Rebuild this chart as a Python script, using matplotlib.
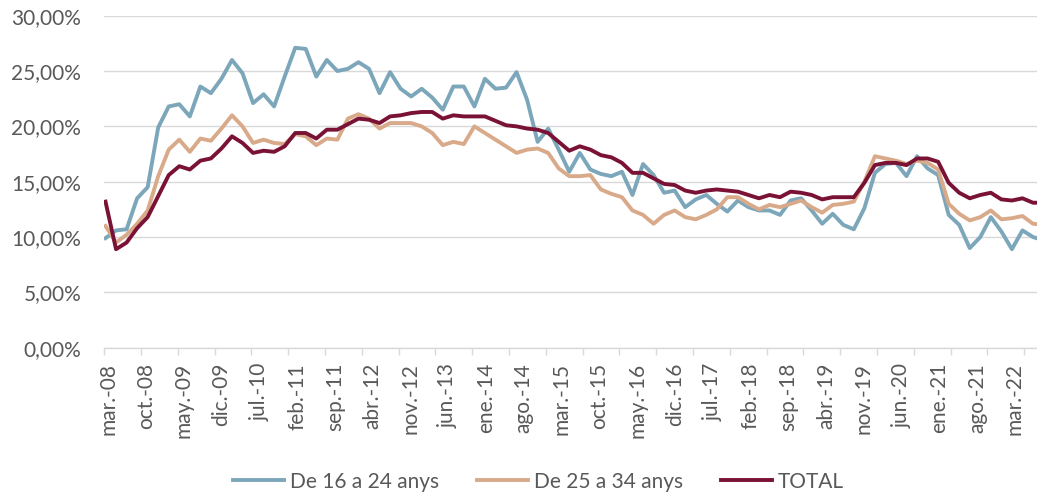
import numpy as np
import matplotlib.pyplot as plt

plt.rcParams['font.family'] = ['Lato', 'DejaVu Sans']

# Taxes (%) per tram d'edat, una dada cada dos mesos des de mar.-08
jove = [9.9, 10.6, 10.7, 13.5, 14.5, 19.9, 21.8, 22.0, 20.9, 23.6,
        23.0, 24.3, 26.0, 24.8, 22.1, 22.9, 21.8, 24.5, 27.1, 27.0,
        24.5, 26.0, 25.0, 25.2, 25.8, 25.2, 23.0, 24.9, 23.4, 22.7,
        23.4, 22.6, 21.5, 23.6, 23.6, 21.8, 24.3, 23.4, 23.5, 24.9,
        22.4, 18.6, 19.8, 17.9, 15.9, 17.6, 16.1, 15.7, 15.5, 15.9,
        13.8, 16.6, 15.6, 14.0, 14.2, 12.7, 13.4, 13.8, 13.0, 12.3,
        13.3, 12.7, 12.4, 12.4, 12.0, 13.3, 13.5, 12.4, 11.2, 12.1,
        11.1, 10.7, 12.6, 15.8, 16.6, 16.7, 15.5, 17.3, 16.2, 15.6,
        12.0, 11.1, 9.0, 10.0, 11.8, 10.5, 8.9, 10.6, 10.0, 9.7]
adult = [11.0, 9.5, 10.2, 11.2, 12.4, 15.5, 17.9, 18.8, 17.7, 18.9,
         18.7, 19.8, 21.0, 20.0, 18.5, 18.8, 18.5, 18.4, 19.3, 19.1,
         18.3, 18.9, 18.8, 20.7, 21.1, 20.7, 19.8, 20.3, 20.3, 20.3,
         20.0, 19.4, 18.3, 18.6, 18.4, 20.0, 19.4, 18.8, 18.2, 17.6,
         17.9, 18.0, 17.6, 16.2, 15.5, 15.5, 15.6, 14.3, 13.9, 13.6,
         12.4, 12.0, 11.2, 12.0, 12.4, 11.8, 11.6, 12.0, 12.5, 13.6,
         13.6, 13.0, 12.5, 12.9, 12.7, 13.0, 13.3, 12.7, 12.2, 12.9,
         13.0, 13.2, 15.0, 17.3, 17.1, 16.9, 16.6, 16.9, 16.7, 16.1,
         13.0, 12.1, 11.5, 11.8, 12.4, 11.6, 11.7, 11.9, 11.2, 11.1]
total = [13.2, 8.9, 9.5, 10.8, 11.8, 13.7, 15.6, 16.4, 16.1, 16.9,
         17.1, 18.0, 19.1, 18.5, 17.6, 17.8, 17.7, 18.2, 19.4, 19.4,
         18.9, 19.7, 19.7, 20.2, 20.7, 20.6, 20.3, 20.9, 21.0, 21.2,
         21.3, 21.3, 20.7, 21.0, 20.9, 20.9, 20.9, 20.5, 20.1, 20.0,
         19.8, 19.7, 19.4, 18.6, 17.8, 18.2, 17.9, 17.4, 17.2, 16.7,
         15.8, 15.8, 15.3, 14.8, 14.7, 14.2, 14.0, 14.2, 14.3, 14.2,
         14.1, 13.8, 13.5, 13.8, 13.6, 14.1, 14.0, 13.8, 13.4, 13.6,
         13.6, 13.6, 14.9, 16.5, 16.7, 16.7, 16.5, 17.1, 17.1, 16.8,
         14.9, 14.0, 13.5, 13.8, 14.0, 13.4, 13.3, 13.5, 13.1, 13.1]

etiquetes = ["mar.-08", "oct.-08", "may.-09", "dic.-09", "jul.-10", "feb.-11",
             "sep.-11", "abr.-12", "nov.-12", "jun.-13", "ene.-14", "ago.-14",
             "mar.-15", "oct.-15", "may.-16", "dic.-16", "jul.-17", "feb.-18",
             "sep.-18", "abr.-19", "nov.-19", "jun.-20", "ene.-21", "ago.-21",
             "mar.-22"]

gris = '#d9d9d9'
text_col = '#595959'

fig = plt.figure(figsize=(10.37, 4.95), dpi=100)
ax = fig.add_axes([104 / 1037, 1 - 347.7 / 495, 933 / 1037, 332 / 495])

x = np.arange(len(total))
ax.plot(x, jove, color='#7ca6ba', lw=2.8, label="De 16 a 24 anys", solid_joinstyle='round')
ax.plot(x, adult, color='#d8aa8a', lw=2.8, label="De 25 a 34 anys", solid_joinstyle='round')
ax.plot(x, total, color='#7a1235', lw=2.8, label="TOTAL", solid_joinstyle='round')

ax.set_xlim(-0.142, 88.38)
ax.set_ylim(0, 30)
yt = np.arange(0, 31, 5)
ax.set_yticks(yt, [f"{v:.2f}%".replace('.', ',') for v in yt])
ax.grid(axis='y', color=gris, lw=1.0)
ax.set_axisbelow(True)

for s in ['top', 'right', 'left']:
    ax.spines[s].set_visible(False)
ax.spines['bottom'].set_color(gris)
ax.spines['bottom'].set_linewidth(1.0)

# marques i etiquetes de l'eix X van per separat
ax.set_xticks(np.linspace(-0.114, -0.114 + 25 * 3.4915, 26))
ax.set_xticks(0.266 + 3.584 * np.arange(len(etiquetes)), etiquetes, minor=True)
ax.tick_params(axis='x', which='major', length=5, width=1, color=gris, labelbottom=False)
ax.tick_params(axis='x', which='minor', length=0, pad=11, labelrotation=90,
               labelsize=15, labelcolor=text_col)
ax.tick_params(axis='y', length=0, pad=16.5, labelsize=15, labelcolor=text_col)

leg = fig.legend(loc='center', bbox_to_anchor=(538.5 / 1037, 1 - 481.7 / 495), ncol=3,
                 frameon=False, fontsize=15, handlelength=2.45, handletextpad=0.3,
                 columnspacing=1.8)
for t in leg.get_texts():
    t.set_color(text_col)

fig.savefig('out.png', dpi=100)
